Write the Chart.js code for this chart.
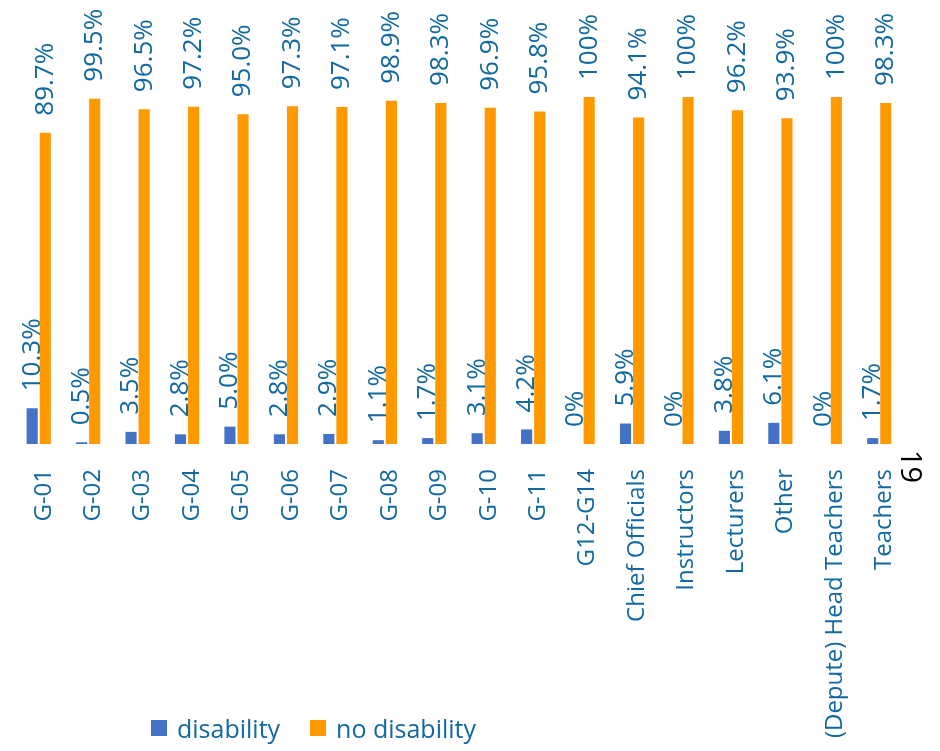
<!DOCTYPE html>
<html>
<head>
<meta charset="utf-8">
<script src="https://cdn.jsdelivr.net/npm/chart.js@4/dist/chart.umd.min.js"></script>
<style>
    body { margin: 0; background: #fff; font-family: "Open Sans", sans-serif; }
    #wrap { position: relative; width: 940px; height: 751px; }
    #legend { position: absolute; left: 151px; top: 711px; display: flex; align-items: center; color: #11699f; font-size: 25px; }
    #legend .box { width: 16px; height: 16px; display: inline-block; margin-right: 10px; }
    #legend .item { display: flex; align-items: center; margin-right: 30px; }
    #page { position: absolute; left: 900px; top: 450px; font-size: 29px; color: #000; transform-origin: 0 0; transform: rotate(90deg) translate(0, -32px); }
</style>
</head>
<body>
<div id="wrap">
    <canvas id="chart" width="940" height="751"></canvas>
    <div id="legend">
        <span class="item"><span class="box" style="background:#4472c4"></span>disability</span>
        <span class="item"><span class="box" style="background:#ff9900"></span>no disability</span>
    </div>
    <div id="page">19</div>
</div>
<script>
const categories = ['G-01', 'G-02', 'G-03', 'G-04', 'G-05', 'G-06', 'G-07', 'G-08', 'G-09', 'G-10', 'G-11',
    'G12-G14', 'Chief Officials', 'Instructors', 'Lecturers', 'Other', '(Depute) Head Teachers', 'Teachers'];
const disability = [10.3, 0.5, 3.5, 2.8, 5.0, 2.8, 2.9, 1.1, 1.7, 3.1, 4.2, 0, 5.9, 0, 3.8, 6.1, 0, 1.7];
const noDisability = [89.7, 99.5, 96.5, 97.2, 95.0, 97.3, 97.1, 98.9, 98.3, 96.9, 95.8, 100, 94.1, 100, 96.2, 93.9, 100, 98.3];

const textColor = '#11699f';

function fmt(v) {
    if (v === 0 || v === 100) return v + '%';
    return v.toFixed(1) + '%';
}

// rotated value labels above each bar
const valueLabels = {
    id: 'valueLabels',
    afterDatasetsDraw(chart) {
        const ctx = chart.ctx;
        ctx.save();
        ctx.fillStyle = textColor;
        ctx.font = '26px "Open Sans"';
        ctx.textAlign = 'left';
        ctx.textBaseline = 'middle';
        chart.data.datasets.forEach((ds, i) => {
            chart.getDatasetMeta(i).data.forEach((bar, j) => {
                ctx.save();
                ctx.translate(bar.x, bar.y - 17);
                ctx.rotate(-Math.PI / 2);
                ctx.fillText(fmt(ds.data[j]), 0, 0);
                ctx.restore();
            });
        });
        ctx.restore();
    }
};

new Chart(document.getElementById('chart'), {
    type: 'bar',
    data: {
        labels: categories,
        datasets: [
            { label: 'disability', data: disability, backgroundColor: '#4472c4' },
            { label: 'no disability', data: noDisability, backgroundColor: '#ff9900' }
        ]
    },
    options: {
        responsive: false,
        animation: false,
        layout: { padding: { left: 14, right: 36, top: 97, bottom: 0 } },
        datasets: { bar: { categoryPercentage: 0.53, barPercentage: 0.85 } },
        plugins: { legend: { display: false }, tooltip: { enabled: false } },
        scales: {
            x: {
                grid: { display: false },
                border: { display: false },
                afterFit: s => { s.height = 307; },
                ticks: {
                    autoSkip: false,
                    minRotation: 90,
                    maxRotation: 90,
                    padding: 17,
                    labelOffset: 5,
                    color: textColor,
                    font: { family: 'Open Sans', size: 24 }
                }
            },
            y: { display: false, min: 0, max: 100 }
        }
    },
    plugins: [valueLabels]
});
</script>
</body>
</html>
